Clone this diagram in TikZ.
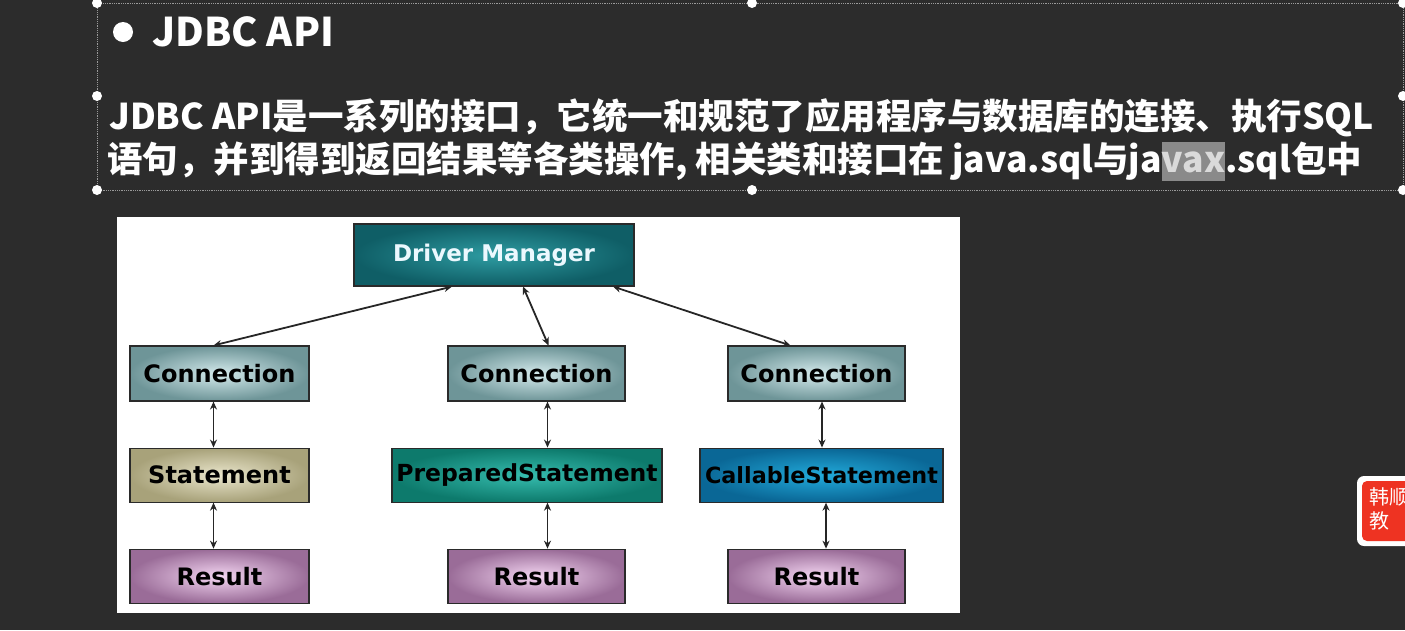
\documentclass[tikz,border=0pt]{standalone}
\usepackage{fontspec}
\usepackage{tikz}
\usetikzlibrary{positioning,arrows.meta}

\newfontfamily\cjk{Noto Sans CJK SC}
\newfontfamily\boxfont{DejaVu Sans}

\definecolor{board}{HTML}{2C2C2C}
\definecolor{frameline}{HTML}{9A9A9A}
\definecolor{hlgray}{HTML}{8A8A8A}
\definecolor{hltext}{HTML}{DADADA}
\definecolor{boxline}{HTML}{2A2A2A}
\definecolor{dmout}{HTML}{0F5E66}
\definecolor{dmin}{HTML}{2E9CA2}
\definecolor{connout}{HTML}{6E9598}
\definecolor{connin}{HTML}{D4EAEC}
\definecolor{stmtout}{HTML}{A8A27A}
\definecolor{stmtin}{HTML}{EAE6CC}
\definecolor{prepout}{HTML}{0D7A6C}
\definecolor{prepin}{HTML}{36BCAE}
\definecolor{callout}{HTML}{0A6796}
\definecolor{callin}{HTML}{22AADA}
\definecolor{resout}{HTML}{9A6C98}
\definecolor{resin}{HTML}{F4D6F2}
\definecolor{badgered}{HTML}{EE3322}

% grey selection mark behind a word
\newcommand{\selword}[1]{\setbox0\hbox{#1}\rlap{\color{hlgray}\rule[-0.24em]{\wd0}{1.1em}}{\color{hltext}\box0}}

\tikzset{
  box/.style={draw=boxline, line width=1.1pt, minimum height=54pt, inner sep=0pt,
              font=\boxfont\bfseries\fontsize{24}{24}\selectfont, text=black},
  connbox/.style={box, minimum width=177pt, inner color=connin, outer color=connout},
  resbox/.style={box, minimum width=177pt, inner color=resin, outer color=resout},
  link/.style={black!85, line width=1.8pt, {Stealth[length=8pt,width=7pt]}-{Stealth[length=8pt,width=7pt]}},
  handle/.style={circle, fill=white, inner sep=0pt, minimum size=10pt},
  slidetext/.style={anchor=west, inner sep=0pt, text=white, font=\cjk\bfseries\fontsize{35.5}{43}\selectfont}
}

\begin{document}
\begin{tikzpicture}[x=1pt,y=-1pt]
  \useasboundingbox (0,0) rectangle (1405,630);
  \fill[board] (0,0) rectangle (1405,630);

  % text frame with its handles
  \draw[frameline, densely dotted, line width=0.8pt] (97,3) rectangle (1403,190);
  \foreach \hx/\hy [count=\i] in {97/3, 97/96, 97/190, 752/3, 752/190, 1403/3, 1403/96, 1403/190}
    \node[handle] (h\i) at (\hx,\hy) {};

  % heading
  \node[circle, fill=white, inner sep=0pt, minimum size=20pt] (dot) at (123,32) {};
  \node[slidetext, font=\cjk\bfseries\fontsize{39.5}{44}\selectfont] (title) at (152,32) {JDBC API};
  \node[slidetext] (line1) at (109,118) {JDBC API是一系列的接口，它统一和规范了应用程序与数据库的连接、执行SQL};
  \node[slidetext] (line2) at (107,161) {语句，并到得到返回结果等各类操作, 相关类和接口在 java.sql与ja\selword{vax}.sql包中};

  % diagram panel
  \fill[white] (117,217) rectangle (960,613);

  \node[box, minimum width=280pt, minimum height=62pt, inner color=dmin, outer color=dmout,
        text=white!92!cyan, font=\boxfont\bfseries\fontsize{23}{23}\selectfont] (dm) at (494,255) {Driver Manager};

  \node[connbox, minimum width=179pt, minimum height=55pt] (conn1) at (219.5,373.5) {Connection};
  \node[connbox, minimum height=55pt] (conn2) at (536.5,373.5) {Connection};
  \node[connbox, minimum height=55pt] (conn3) at (816.5,373.5) {Connection};

  \node[box, minimum width=179pt, inner color=stmtin, outer color=stmtout, below=46pt of conn1] (stmt) {Statement};
  \node[box, minimum width=270pt, inner color=prepin, outer color=prepout, below=46pt of conn2, xshift=-9.5pt,
        font=\boxfont\bfseries\fontsize{23.5}{24}\selectfont] (prep) {PreparedStatement};
  \node[box, minimum width=243pt, inner color=callin, outer color=callout, below=46pt of conn3, xshift=5pt,
        font=\boxfont\bfseries\fontsize{22.3}{24}\selectfont] (call) {CallableStatement};

  \node[resbox, minimum width=179pt, below=46pt of stmt] (res1) {Result};
  \node[resbox, below=46pt of prep, xshift=9.5pt] (res2) {Result};
  \node[resbox, below=46pt of call, xshift=-5pt] (res3) {Result};

  % connectors
  \draw[link] ([xshift=-6pt]conn1.north) -- ([xshift=-42pt]dm.south);
  \draw[link] ([xshift=12pt]conn2.north) -- ([xshift=29pt]dm.south);
  \draw[link] ([xshift=-26pt]conn3.north) -- ([xshift=119pt]dm.south);

  \coordinate (col1) at ([xshift=-6pt]conn1.south);
  \coordinate (col2) at ([xshift=11pt]conn2.south);
  \coordinate (col3) at ([xshift=5.5pt]conn3.south);
  \coordinate (col3b) at ([xshift=9.5pt]res3.north);
  \draw[link] (col1) -- (col1 |- stmt.north);
  \draw[link] (col1 |- stmt.south) -- (col1 |- res1.north);
  \draw[link] (col2) -- (col2 |- prep.north);
  \draw[link] (col2 |- prep.south) -- (col2 |- res2.north);
  \draw[link] (col3) -- (col3 |- call.north);
  \draw[link] (col3b |- call.south) -- (col3b);

  % badge at the right edge
  \fill[white, rounded corners=7pt] (1357,476) rectangle (1425,546);
  \fill[badgered, rounded corners=5pt] (1362,481) rectangle (1425,541);
  \node[anchor=north west, inner sep=0pt, align=left, text=white,
        font=\cjk\fontsize{20}{24}\selectfont] (badge) at (1369,487) {韩顺\\教};
\end{tikzpicture}
\end{document}
